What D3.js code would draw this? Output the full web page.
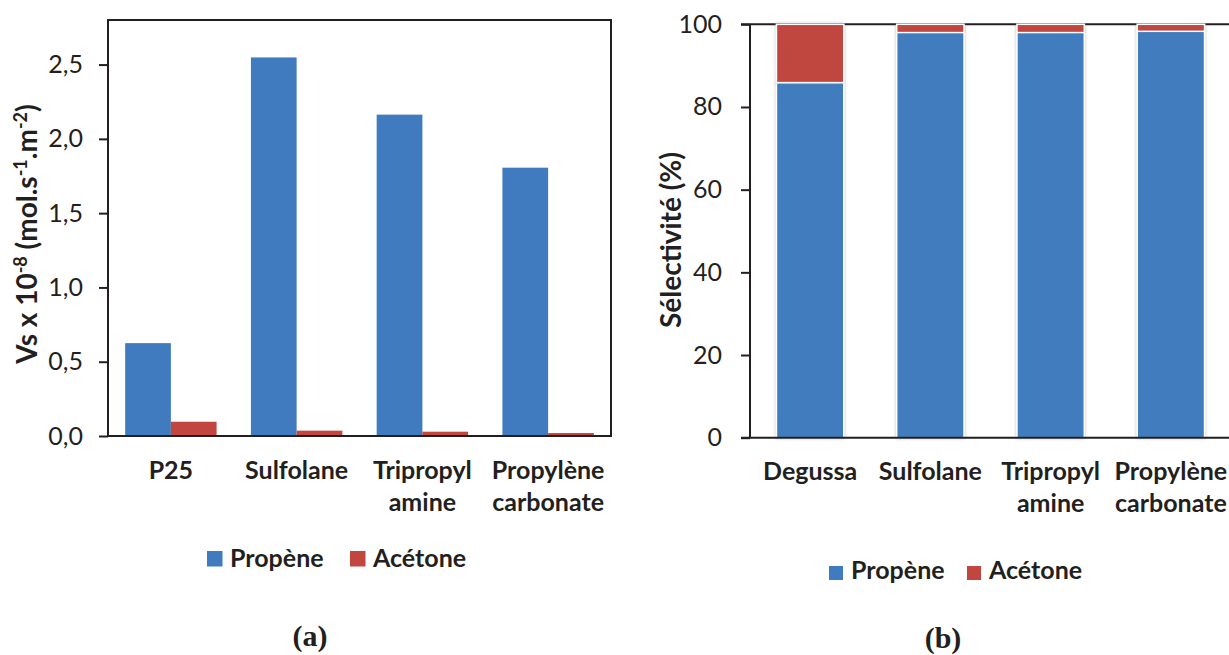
<!DOCTYPE html>
<html>
<head>
<meta charset="utf-8">
<script src="https://cdn.jsdelivr.net/npm/d3@7"></script>
<style>
  html, body { margin: 0; padding: 0; background: #fff; }
  svg { display: block; }
  text { font-family: Lato, "Open Sans", sans-serif; fill: #231f20; }
  text.serif { font-family: "Liberation Serif", "Times New Roman", serif; }
</style>
</head>
<body>
<svg id="chart" width="1229" height="655"></svg>
<script>
// ---- Data ----
const seriesNames = ["Propène", "Acétone"];
const seriesColors = ["#3f7bbe", "#c0463f"];

// Chart (a)
const catsA = [["P25"], ["Sulfolane"], ["Tripropyl", "amine"], ["Propylène", "carbonate"]];
const propeneA = [0.625, 2.548, 2.163, 1.806];
const acetoneA = [0.096, 0.036, 0.029, 0.020];
const ticksA = [0, 0.5, 1.0, 1.5, 2.0, 2.5];

// Chart (b)
const catsB = [["Degussa"], ["Sulfolane"], ["Tripropyl", "amine"], ["Propylène", "carbonate"]];
const propeneB = [85.9, 98.0, 98.0, 98.3];
const acetoneB = [14.1, 2.0, 2.0, 1.7];
const ticksB = [0, 20, 40, 60, 80, 100];

const svg = d3.select("#chart");
const defs = svg.append("defs");
const f = defs.append("filter").attr("id", "shadow").attr("x", "-20%").attr("y", "-5%").attr("width", "140%").attr("height", "110%");
f.append("feDropShadow").attr("dx", 0).attr("dy", 0).attr("stdDeviation", 1.6)
  .attr("flood-color", "#7f7f7f").attr("flood-opacity", 0.55);

// ================= Chart (a) =================
const gA = svg.append("g");
const keyA = catsA.map(c => c.join(" "));
const xA = d3.scaleBand().domain(keyA).range([108, 611]).paddingInner(0.273).paddingOuter(0.1365);
const xsA = d3.scaleBand().domain(seriesNames).range([0, xA.bandwidth()]);
const yA = d3.scaleLinear().domain([0, 2.8]).range([436, 20]);

const dataA = keyA.map((k, i) => ({ key: k, vals: [propeneA[i], acetoneA[i]] }));
const grpA = gA.selectAll("g.grp").data(dataA).join("g")
  .attr("transform", d => `translate(${xA(d.key)},0)`);
grpA.selectAll("rect").data(d => d.vals.map((v, j) => ({ v, s: seriesNames[j], j }))).join("rect")
  .attr("x", d => xsA(d.s))
  .attr("width", xsA.bandwidth())
  .attr("y", d => yA(d.v))
  .attr("height", d => yA(0) - yA(d.v))
  .attr("fill", d => seriesColors[d.j]);

// frame
gA.append("rect").attr("x", 108).attr("y", yA(2.8)).attr("width", 611 - 108).attr("height", yA(0) - yA(2.8))
  .attr("fill", "none").attr("stroke", "#231f20").attr("stroke-width", 2);

const axA = gA.append("g").attr("transform", "translate(108,0)")
  .call(d3.axisLeft(yA).tickValues(ticksA).tickSize(9).tickPadding(16)
    .tickFormat(d => d3.format(".1f")(d).replace(".", ",")));
axA.select(".domain").remove();
axA.selectAll(".tick line").attr("stroke", "#231f20").attr("stroke-width", 2);
axA.selectAll(".tick text").style("font-family", "Lato, sans-serif").attr("font-size", 25).attr("fill", "#231f20");

// x labels A
const xlA = gA.selectAll("text.xl").data(catsA).join("text")
  .attr("class", "xl")
  .attr("text-anchor", "middle")
  .attr("font-weight", "bold").attr("font-size", 25)
  .attr("transform", (d, i) => `translate(${xA(keyA[i]) + xA.bandwidth() / 2},479)`);
xlA.selectAll("tspan").data(d => d).join("tspan")
  .attr("x", 0).attr("y", (d, i) => i * 32).text(d => d);

// y title A
const tA = gA.append("text")
  .attr("transform", `translate(37,${(yA(0) + yA(2.8)) / 2 + 6}) rotate(-90)`)
  .attr("text-anchor", "middle").attr("font-weight", "bold").attr("font-size", 28);
const partsA = [["Vs x 10", 0], ["-8", 1], [" (mol.s", 0], ["-1", 1], [".m", 0], ["-2", 1], [")", 0]];
let prevSup = 0;
partsA.forEach(([t, sup]) => {
  const ts = tA.append("tspan").text(t);
  const dy = sup ? -10 : (prevSup ? 10 : 0);
  if (dy) ts.attr("dy", dy);
  if (sup) ts.attr("font-size", 18);
  prevSup = sup;
});

// legend A
const legA = gA.selectAll("g.leg").data(seriesNames).join("g")
  .attr("transform", (d, i) => `translate(${[207, 350][i]},551)`);
legA.append("rect").attr("width", 15.5).attr("height", 15.5).attr("fill", (d, i) => seriesColors[i]);
legA.append("text").attr("x", 23).attr("y", 15.5).attr("font-weight", "bold").attr("font-size", 25).text(d => d);

gA.append("text").attr("class", "serif").attr("x", 310).attr("y", 646).attr("text-anchor", "middle")
  .attr("font-weight", "bold").attr("font-size", 30).text("(a)");

// ================= Chart (b) =================
const gB = svg.append("g");
const keyB = catsB.map(c => c.join(" "));
const xB = d3.scaleBand().domain(keyB).range([750, 1231]).paddingInner(0.44).paddingOuter(0.22);
const yB = d3.scaleLinear().domain([0, 100]).range([437.7, 24.3]);

// top line at 100
gB.append("line").attr("x1", 741).attr("x2", 1229).attr("y1", yB(100)).attr("y2", yB(100))
  .attr("stroke", "#231f20").attr("stroke-width", 2);

const stackData = keyB.map((k, i) => ({ key: k, "Propène": propeneB[i], "Acétone": acetoneB[i] }));
const stacked = d3.stack().keys(seriesNames)(stackData);
gB.selectAll("g.ser").data(stacked).join("g")
  .attr("fill", (d, i) => seriesColors[i])
  .selectAll("rect").data(d => d).join("rect")
  .attr("x", d => xB(d.data.key))
  .attr("width", xB.bandwidth())
  .attr("y", d => yB(d[1]))
  .attr("height", d => yB(d[0]) - yB(d[1]))
  .attr("stroke", "#ffffff").attr("stroke-width", 1.5)
  .attr("filter", "url(#shadow)");

gB.append("line").attr("x1", 741).attr("x2", 1229).attr("y1", yB(0)).attr("y2", yB(0))
  .attr("stroke", "#231f20").attr("stroke-width", 2);

const axB = gB.append("g").attr("transform", "translate(750,0)")
  .call(d3.axisLeft(yB).tickValues(ticksB).tickSize(9).tickPadding(19).tickFormat(d3.format("d")));
axB.select(".domain").attr("stroke", "#231f20").attr("stroke-width", 2)
  .attr("d", `M0,${yB(100)}V${yB(0)}`);
axB.selectAll(".tick line").attr("stroke", "#231f20").attr("stroke-width", 2);
axB.selectAll(".tick text").style("font-family", "Lato, sans-serif").attr("font-size", 25).attr("fill", "#231f20");

const xlB = gB.selectAll("text.xl").data(catsB).join("text")
  .attr("class", "xl")
  .attr("text-anchor", "middle")
  .attr("font-weight", "bold").attr("font-size", 25)
  .attr("transform", (d, i) => `translate(${xB(keyB[i]) + xB.bandwidth() / 2},480)`);
xlB.selectAll("tspan").data(d => d).join("tspan")
  .attr("x", 0).attr("y", (d, i) => i * 32).text(d => d);

gB.append("text")
  .attr("transform", `translate(681,${(yB(0) + yB(100)) / 2 + 9}) rotate(-90)`)
  .attr("text-anchor", "middle").attr("font-weight", "bold").attr("font-size", 28)
  .text("Sélectivité (%)");

const legB = gB.selectAll("g.leg").data(seriesNames).join("g")
  .attr("transform", (d, i) => `translate(${[829, 967][i]},566)`);
legB.append("rect").attr("width", 14).attr("height", 14).attr("fill", (d, i) => seriesColors[i]);
legB.append("text").attr("x", 22).attr("y", 13).attr("font-weight", "bold").attr("font-size", 25).text(d => d);

gB.append("text").attr("class", "serif").attr("x", 943).attr("y", 648).attr("text-anchor", "middle")
  .attr("font-weight", "bold").attr("font-size", 30).text("(b)");
</script>
</body>
</html>
